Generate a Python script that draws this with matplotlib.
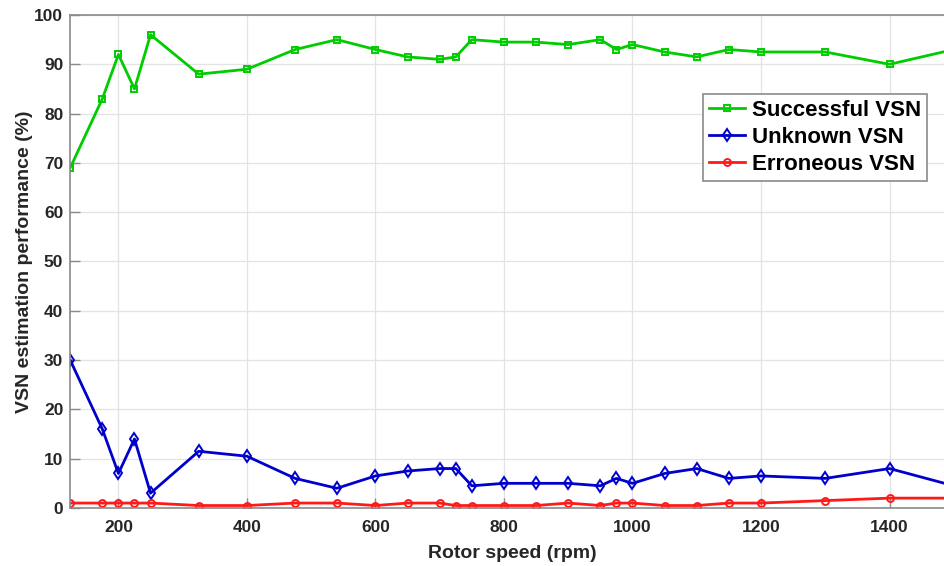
import matplotlib
matplotlib.use("Agg")
import matplotlib.pyplot as plt

plt.rcParams['font.family'] = ['Liberation Sans', 'DejaVu Sans']
plt.rcParams['font.weight'] = 'bold'

# rotor speed (rpm)
speed = [125, 175, 200, 225, 250, 325, 400, 475, 540, 600, 650, 700, 725, 750,
         800, 850, 900, 950, 975, 1000, 1050, 1100, 1150, 1200, 1300, 1400, 1500]

# VSN estimation performance (%)
successful = [69, 83, 92, 85, 96, 88, 89, 93, 95, 93, 91.5, 91, 91.5, 95,
              94.5, 94.5, 94, 95, 93, 94, 92.5, 91.5, 93, 92.5, 92.5, 90, 93]
unknown = [30, 16, 7, 14, 3, 11.5, 10.5, 6, 4, 6.5, 7.5, 8, 8, 4.5,
           5, 5, 5, 4.5, 6, 5, 7, 8, 6, 6.5, 6, 8, 4.5]
erroneous = [1, 1, 1, 1, 1, 0.5, 0.5, 1, 1, 0.5, 1, 1, 0.5, 0.5,
             0.5, 0.5, 1, 0.5, 1, 1, 0.5, 0.5, 1, 1, 1.5, 2, 2]

fig = plt.figure(figsize=(9.45, 5.66), dpi=100)
ax = fig.add_axes([0.0743, 0.1025, 0.935, 0.871])

ax.plot(speed, successful, color='#00CC00', lw=2, marker='s', ms=5,
        mfc='none', mew=1.4, label='Successful VSN')
ax.plot(speed, unknown, color='#0000CC', lw=2, marker='d', ms=6.5,
        mfc='none', mew=1.4, label='Unknown VSN')
ax.plot(speed, erroneous, color='#FF1A1A', lw=2, marker='o', ms=5,
        mfc='none', mew=1.4, label='Erroneous VSN')

ax.set_xlim(125, 1500)
ax.set_ylim(0, 100)
ax.set_xticks(range(200, 1500, 200))
ax.set_yticks(range(0, 101, 10))
ax.grid(True, color='#E3E3E3', lw=0.9)
ax.set_axisbelow(True)

for s in ax.spines.values():
    s.set_color('#8A8A8A')
    s.set_linewidth(1.2)
ax.tick_params(direction='in', length=7, color='#8A8A8A', width=1,
               labelsize=12.5, labelcolor='#262626')
ax.tick_params(axis='x', pad=9)
ax.tick_params(axis='y', pad=5)

ax.set_xlabel('Rotor speed (rpm)', fontsize=14, fontweight='bold',
              color='#262626', labelpad=7)
ax.set_ylabel('VSN estimation performance (%)', fontsize=14,
              fontweight='bold', color='#262626', labelpad=1)

leg = ax.legend(loc='upper left', bbox_to_anchor=(0.744, 0.834),
                bbox_transform=fig.transFigure, fontsize=16,
                fancybox=False, framealpha=1, edgecolor='#8A8A8A',
                handlelength=1.65, handletextpad=0.3, labelspacing=0.28,
                borderpad=0.25, borderaxespad=0)
leg.get_frame().set_linewidth(1.2)

fig.savefig('out.png', dpi=100)
